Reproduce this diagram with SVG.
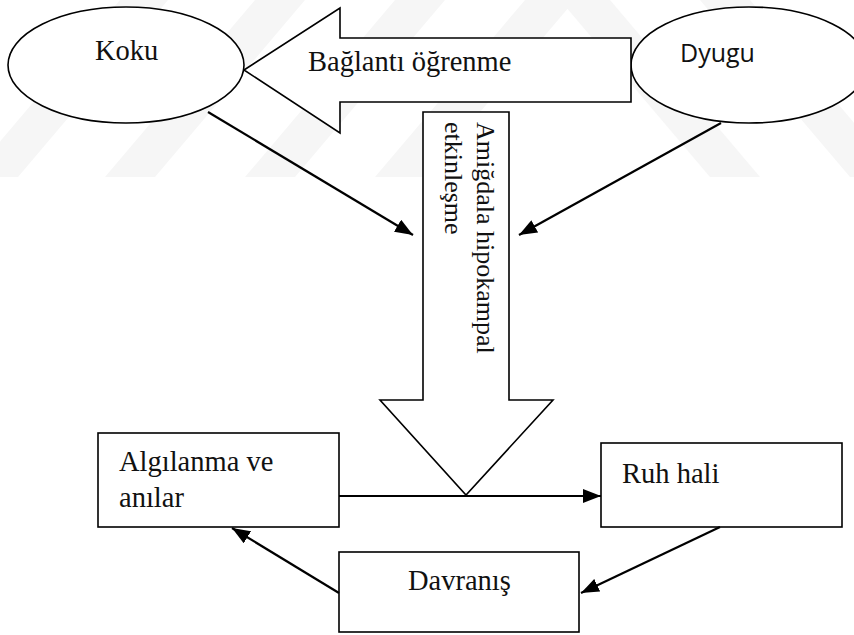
<svg xmlns="http://www.w3.org/2000/svg" width="854" height="635" viewBox="0 0 854 635">
<style>
.shape{fill:#fff;stroke:#000;stroke-width:1.6}
.conn{fill:none;stroke:#000;stroke-width:2.2}
.serif{font-family:"Liberation Serif","Times New Roman",serif;font-size:28.5px;fill:#111}
.sans{font-family:"Open Sans","Noto Sans",sans-serif;font-size:25px;fill:#111}
.wm{fill:#f6f6f6}
</style>
<defs>
<marker id="ah" viewBox="0 0 18 14" refX="18" refY="7" markerWidth="18" markerHeight="14" markerUnits="userSpaceOnUse" orient="auto">
<path d="M0,0 L18,7 L0,14 Z" fill="#000"/>
</marker>
</defs>
<rect width="854" height="635" fill="#fff"/>
<g id="watermark">
<polygon class="wm" points="-30,177 18,177 168,0 120,0"/>
<polygon class="wm" points="105,177 155,177 305,0 255,0"/>
<polygon class="wm" points="245,177 295,177 445,0 395,0"/>
<polygon class="wm" points="375,177 425,177 575,0 525,0"/>
<polygon class="wm" points="560,0 610,0 760,177 710,177"/>
<polygon class="wm" points="700,0 750,0 900,177 850,177"/>
</g>
<g id="koku">
<ellipse class="shape" cx="126" cy="65" rx="118" ry="58"/>
<text class="serif" x="95" y="60">Koku</text>
</g>
<g id="dyugu">
<ellipse class="shape" cx="749" cy="65" rx="118" ry="58"/>
<text class="sans" x="680" y="62">Dyugu</text>
</g>
<g id="baglanti">
<polygon class="shape" points="244,70 340,8 340,38 631,38 631,102 340,102 340,133"/>
<text class="serif" x="308" y="71">Bağlantı öğrenme</text>
</g>
<g id="amigdala">
<polygon class="shape" points="423,112 509,112 509,400 553,400 466,495 380,400 423,400"/>
<text class="serif" style="font-size:26px" transform="translate(477,122) rotate(90)"><tspan x="0" y="0">Amiğdala hipokampal</tspan><tspan x="0" y="32">etkinleşme</tspan></text>
</g>
<g id="algilanma">
<rect class="shape" x="98" y="433" width="241" height="94"/>
<text class="serif" x="119" y="471">Algılanma ve</text>
<text class="serif" x="119" y="507">anılar</text>
</g>
<g id="ruhhali">
<rect class="shape" x="601" y="443" width="241" height="84"/>
<text class="serif" x="622" y="483">Ruh hali</text>
</g>
<g id="davranis">
<rect class="shape" x="339" y="552" width="240" height="80"/>
<text class="serif" x="408" y="590">Davranış</text>
</g>
<g id="connectors">
<line class="conn" x1="208" y1="112" x2="413" y2="235" marker-end="url(#ah)"/>
<line class="conn" x1="721" y1="123" x2="519" y2="235" marker-end="url(#ah)"/>
<line class="conn" x1="339" y1="496" x2="601" y2="496" marker-end="url(#ah)"/>
<line class="conn" x1="720" y1="527" x2="581" y2="593" marker-end="url(#ah)"/>
<line class="conn" x1="339" y1="593" x2="232" y2="528" marker-end="url(#ah)"/>
</g>
</svg>
